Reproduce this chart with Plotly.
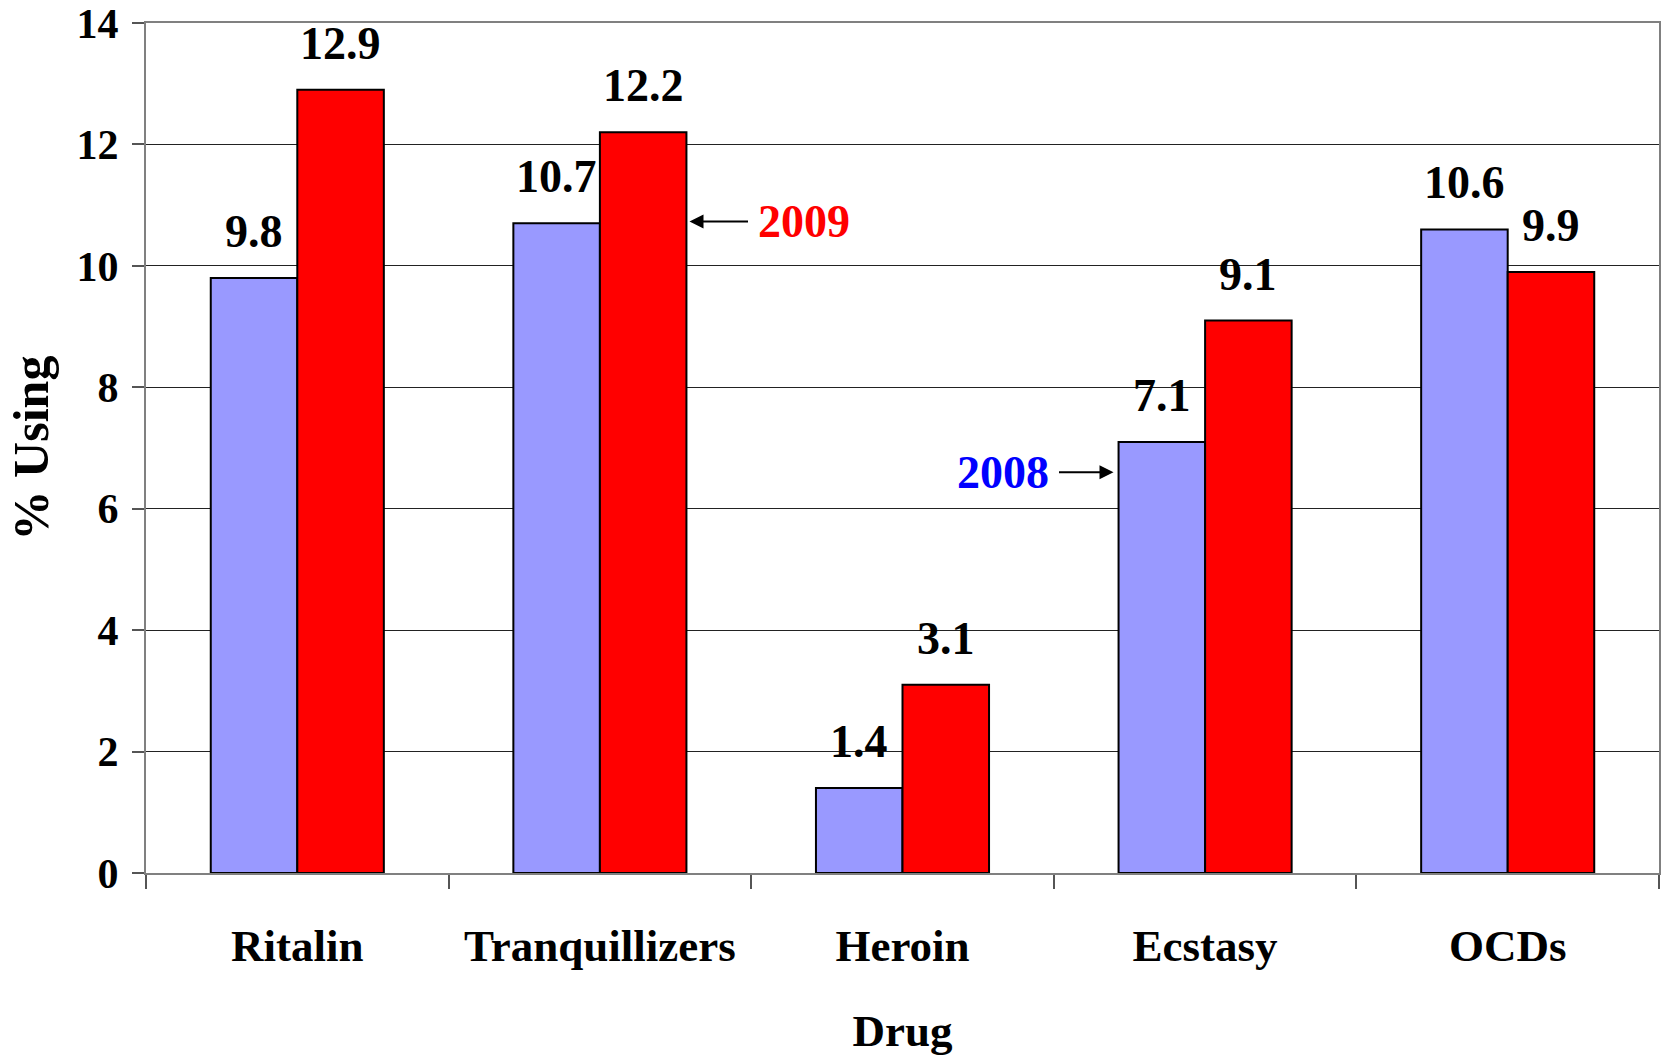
import plotly.graph_objects as go

drugs = ["Ritalin", "Tranquillizers", "Heroin", "Ecstasy", "OCDs"]
vals_2008 = [9.8, 10.7, 1.4, 7.1, 10.6]
vals_2009 = [12.9, 12.2, 3.1, 9.1, 9.9]
y_ticks = [0, 2, 4, 6, 8, 10, 12, 14]

FONT = "Times New Roman, Liberation Serif, serif"
BAR_HALF = 43.3  # half bar width in px, used to place labels over bars

fig = go.Figure()
fig.add_trace(go.Bar(x=drugs, y=vals_2008, name="2008",
                     marker=dict(color="#9999FF", line=dict(color="black", width=2))))
fig.add_trace(go.Bar(x=drugs, y=vals_2009, name="2009",
                     marker=dict(color="#FF0000", line=dict(color="black", width=2))))

annotations = []
for d, v in zip(drugs, vals_2008):
    annotations.append(dict(x=d, y=v, xref="x", yref="y", text=f"{v:.1f}", showarrow=False,
                            xshift=-BAR_HALF, yshift=19, yanchor="bottom",
                            font=dict(family=FONT, size=46, color="black", weight="bold")))
for d, v in zip(drugs, vals_2009):
    annotations.append(dict(x=d, y=v, xref="x", yref="y", text=f"{v:.1f}", showarrow=False,
                            xshift=BAR_HALF, yshift=19, yanchor="bottom",
                            font=dict(family=FONT, size=46, color="black", weight="bold")))

# series callouts
annotations.append(dict(x="Tranquillizers", y=10.73, xref="x", yref="y", text="2009",
                        showarrow=True, arrowhead=2, arrowsize=1.4, arrowwidth=2, arrowcolor="black",
                        ax=114, ay=0, xshift=2 * BAR_HALF + 3, startstandoff=8,
                        font=dict(family=FONT, size=46, color="#FF0000", weight="bold")))
annotations.append(dict(x="Ecstasy", y=6.6, xref="x", yref="y", text="2008",
                        showarrow=True, arrowhead=2, arrowsize=1.4, arrowwidth=2, arrowcolor="black",
                        ax=-110, ay=0, xshift=-2 * BAR_HALF - 5, startstandoff=8,
                        font=dict(family=FONT, size=46, color="#0000FF", weight="bold")))

fig.update_layout(
    width=1665, height=1057,
    margin=dict(l=146, r=6, t=23, b=184),
    paper_bgcolor="white", plot_bgcolor="white",
    barmode="group", bargap=0.428, bargroupgap=0,
    showlegend=False,
    annotations=annotations,
    font=dict(family=FONT, color="black"),
)
fig.update_xaxes(
    type="category", tickson="boundaries", ticks="outside", ticklen=14, tickwidth=2,
    tickcolor="#555555", showline=True, linecolor="#808080", linewidth=2, mirror=True,
    showgrid=False, automargin=False, ticklabelstandoff=32,
    tickfont=dict(family=FONT, size=45, color="black", weight="bold"),
    title=dict(text="Drug", font=dict(family=FONT, size=45, color="black", weight="bold"), standoff=44),
)
fig.update_yaxes(
    range=[0, 14], tickvals=y_ticks, ticks="outside", ticklen=12, tickwidth=2,
    tickcolor="#555555", showline=True, linecolor="#808080", linewidth=2, mirror=True,
    showgrid=True, gridcolor="#222222", gridwidth=1, zeroline=False,
    automargin=False, ticklabelstandoff=5,
    tickfont=dict(family=FONT, size=42, color="black", weight="bold"),
    title=dict(text="% Using", font=dict(family=FONT, size=50, color="black", weight="bold"), standoff=12),
)

fig.write_html("out.html", config={"displayModeBar": False},
               post_script="document.body.style.margin='0';")
